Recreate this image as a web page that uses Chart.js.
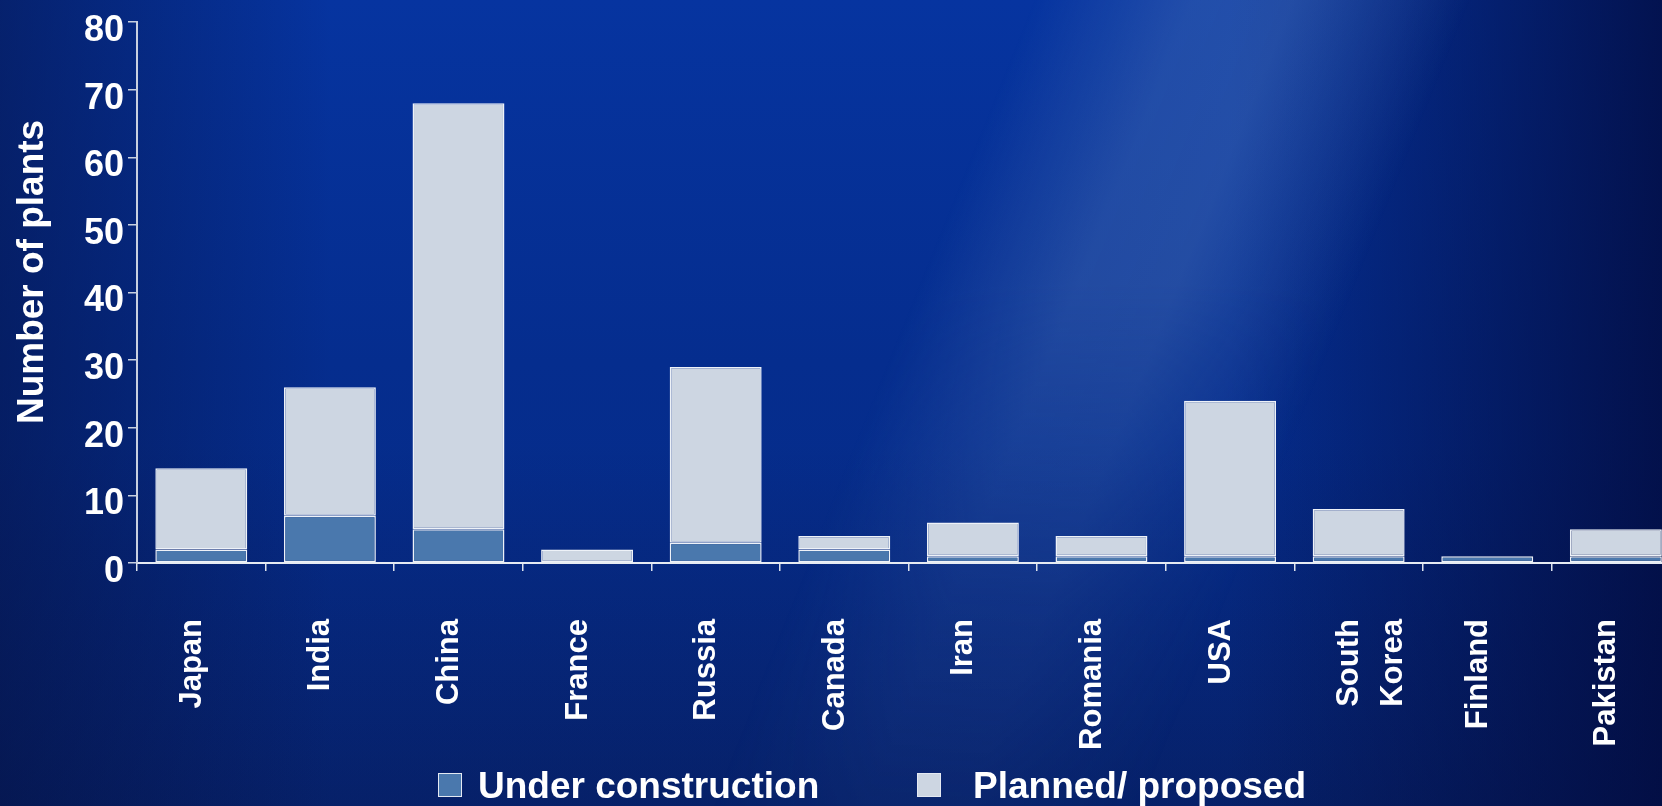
<!DOCTYPE html>
<html>
<head>
<meta charset="utf-8">
<script src="https://cdn.jsdelivr.net/npm/chart.js@4.4.1/dist/chart.umd.min.js"></script>
<style>
  html, body {
    margin: 0;
    padding: 0;
    width: 1662px;
    height: 806px;
    overflow: hidden;
    font-family: 'Liberation Sans', Arial, sans-serif;
  }
  body {
    position: relative;
    background:
      linear-gradient(to right, rgba(5,15,60,0.5) 0%, rgba(5,15,60,0) 20%, rgba(5,15,60,0) 74%, rgba(2,10,60,0.8) 100%),
      linear-gradient(to bottom, rgba(0,0,0,0) 55%, rgba(5,15,55,0.35) 100%),
      linear-gradient(to bottom, #0634a0 0%, #052d8e 45%, #072a84 100%);
  }
  /* light diagonal streak, fading out toward the bottom */
  #streak {
    position: absolute;
    left: 0;
    top: 0;
    width: 1662px;
    height: 806px;
    background: linear-gradient(112deg, rgba(85,125,190,0) 52%, rgba(85,125,190,0.36) 60%, rgba(85,125,190,0.38) 65%, rgba(85,125,190,0) 74%);
    -webkit-mask-image: linear-gradient(to bottom, #000 0%, #000 35%, rgba(0,0,0,0.35) 75%, rgba(0,0,0,0.15) 100%);
    mask-image: linear-gradient(to bottom, #000 0%, #000 35%, rgba(0,0,0,0.35) 75%, rgba(0,0,0,0.15) 100%);
  }
  /* the plot runs a little past the right edge of the window */
  #wrap {
    position: absolute;
    left: 0;
    top: 0;
    width: 1708px;
    height: 806px;
  }
  .legend {
    position: absolute;
    top: 766px;
    height: 40px;
    line-height: 40px;
    font-size: 37px;
    font-weight: bold;
    color: #ffffff;
    white-space: nowrap;
  }
  .swatch {
    position: absolute;
    top: 773px;
    width: 22px;
    height: 22px;
    border: 1px solid #e4e9f2;
  }
</style>
</head>
<body>
<div id="streak"></div>
<div id="wrap"><canvas id="plantsChart"></canvas></div>
<div class="swatch" id="sw1" style="left:438px"></div>
<div class="legend" id="lg1" style="left:478px"></div>
<div class="swatch" id="sw2" style="left:917px"></div>
<div class="legend" id="lg2" style="left:973px"></div>

<script>
// data
const countries = ["Japan", "India", "China", "France", "Russia", "Canada", "Iran", "Romania", "USA", ["South", "Korea"], "Finland", "Pakistan"];
const underConstruction = [2, 7, 5, 0, 3, 2, 1, 1, 1, 1, 1, 1];
const plannedProposed = [12, 19, 63, 2, 26, 2, 5, 3, 23, 7, 0, 4];
const seriesNames = ["Under construction", "Planned/ proposed"];
const seriesColors = ["#4a78ad", "#cdd6e2"];
const yMax = 80;
const yStep = 10;

const fontFamily = "'Liberation Sans', Arial, sans-serif";

// legend (plain html under the chart)
document.getElementById("sw1").style.background = seriesColors[0];
document.getElementById("sw2").style.background = seriesColors[1];
document.getElementById("lg1").textContent = seriesNames[0];
document.getElementById("lg2").textContent = seriesNames[1];

const ctx = document.getElementById("plantsChart").getContext("2d");
const plantsChart = new Chart(ctx, {
    type: 'bar',
    data: {
        labels: countries,
        datasets: [{
            label: seriesNames[0],
            data: underConstruction,
            backgroundColor: seriesColors[0],
            borderColor: '#eef2f8',
            borderWidth: 1.5,
            borderSkipped: false
        }, {
            label: seriesNames[1],
            data: plannedProposed,
            backgroundColor: seriesColors[1],
            borderColor: '#eef2f8',
            borderWidth: 1.5,
            borderSkipped: false
        }]
    },
    options: {
        responsive: true,
        maintainAspectRatio: false,
        animation: false,
        layout: {
            padding: { top: 17, right: 3, bottom: 0, left: 0 }
        },
        datasets: {
            bar: {
                categoryPercentage: 1,
                barPercentage: 0.715
            }
        },
        plugins: {
            legend: { display: false },
            tooltip: { enabled: false }
        },
        scales: {
            x: {
                stacked: true,
                grid: {
                    offset: true,
                    drawOnChartArea: false,
                    drawTicks: true,
                    tickLength: 8,
                    color: '#dde3ee',
                    lineWidth: 1.5
                },
                border: { display: true, color: '#e6ebf3', width: 2 },
                ticks: {
                    color: '#ffffff',
                    font: { family: fontFamily, size: 31, weight: 'bold', lineHeight: 1.42 },
                    minRotation: 90,
                    maxRotation: 90,
                    autoSkip: false,
                    padding: 48,
                    labelOffset: -9
                },
                afterFit: (scale) => { scale.height = 243; }
            },
            y: {
                stacked: true,
                min: 0,
                max: yMax,
                grid: {
                    drawOnChartArea: false,
                    drawTicks: true,
                    tickLength: 9,
                    color: '#c8d0e0',
                    lineWidth: 1.5
                },
                border: { display: true, color: '#c8d0e0', width: 2 },
                ticks: {
                    stepSize: yStep,
                    color: '#ffffff',
                    font: { family: fontFamily, size: 36, weight: 'bold', lineHeight: 1 },
                    padding: 4,
                    labelOffset: 9
                },
                title: {
                    display: true,
                    // leading spaces lift the title a little above the axis centre, as in the original
                    text: '    Number of plants',
                    color: '#ffffff',
                    font: { family: fontFamily, size: 37, weight: 'bold', lineHeight: 1.2 },
                    padding: { top: 11, bottom: 28 }
                },
                afterFit: (scale) => { scale.width = 137; }
            }
        }
    }
});
</script>
</body>
</html>
